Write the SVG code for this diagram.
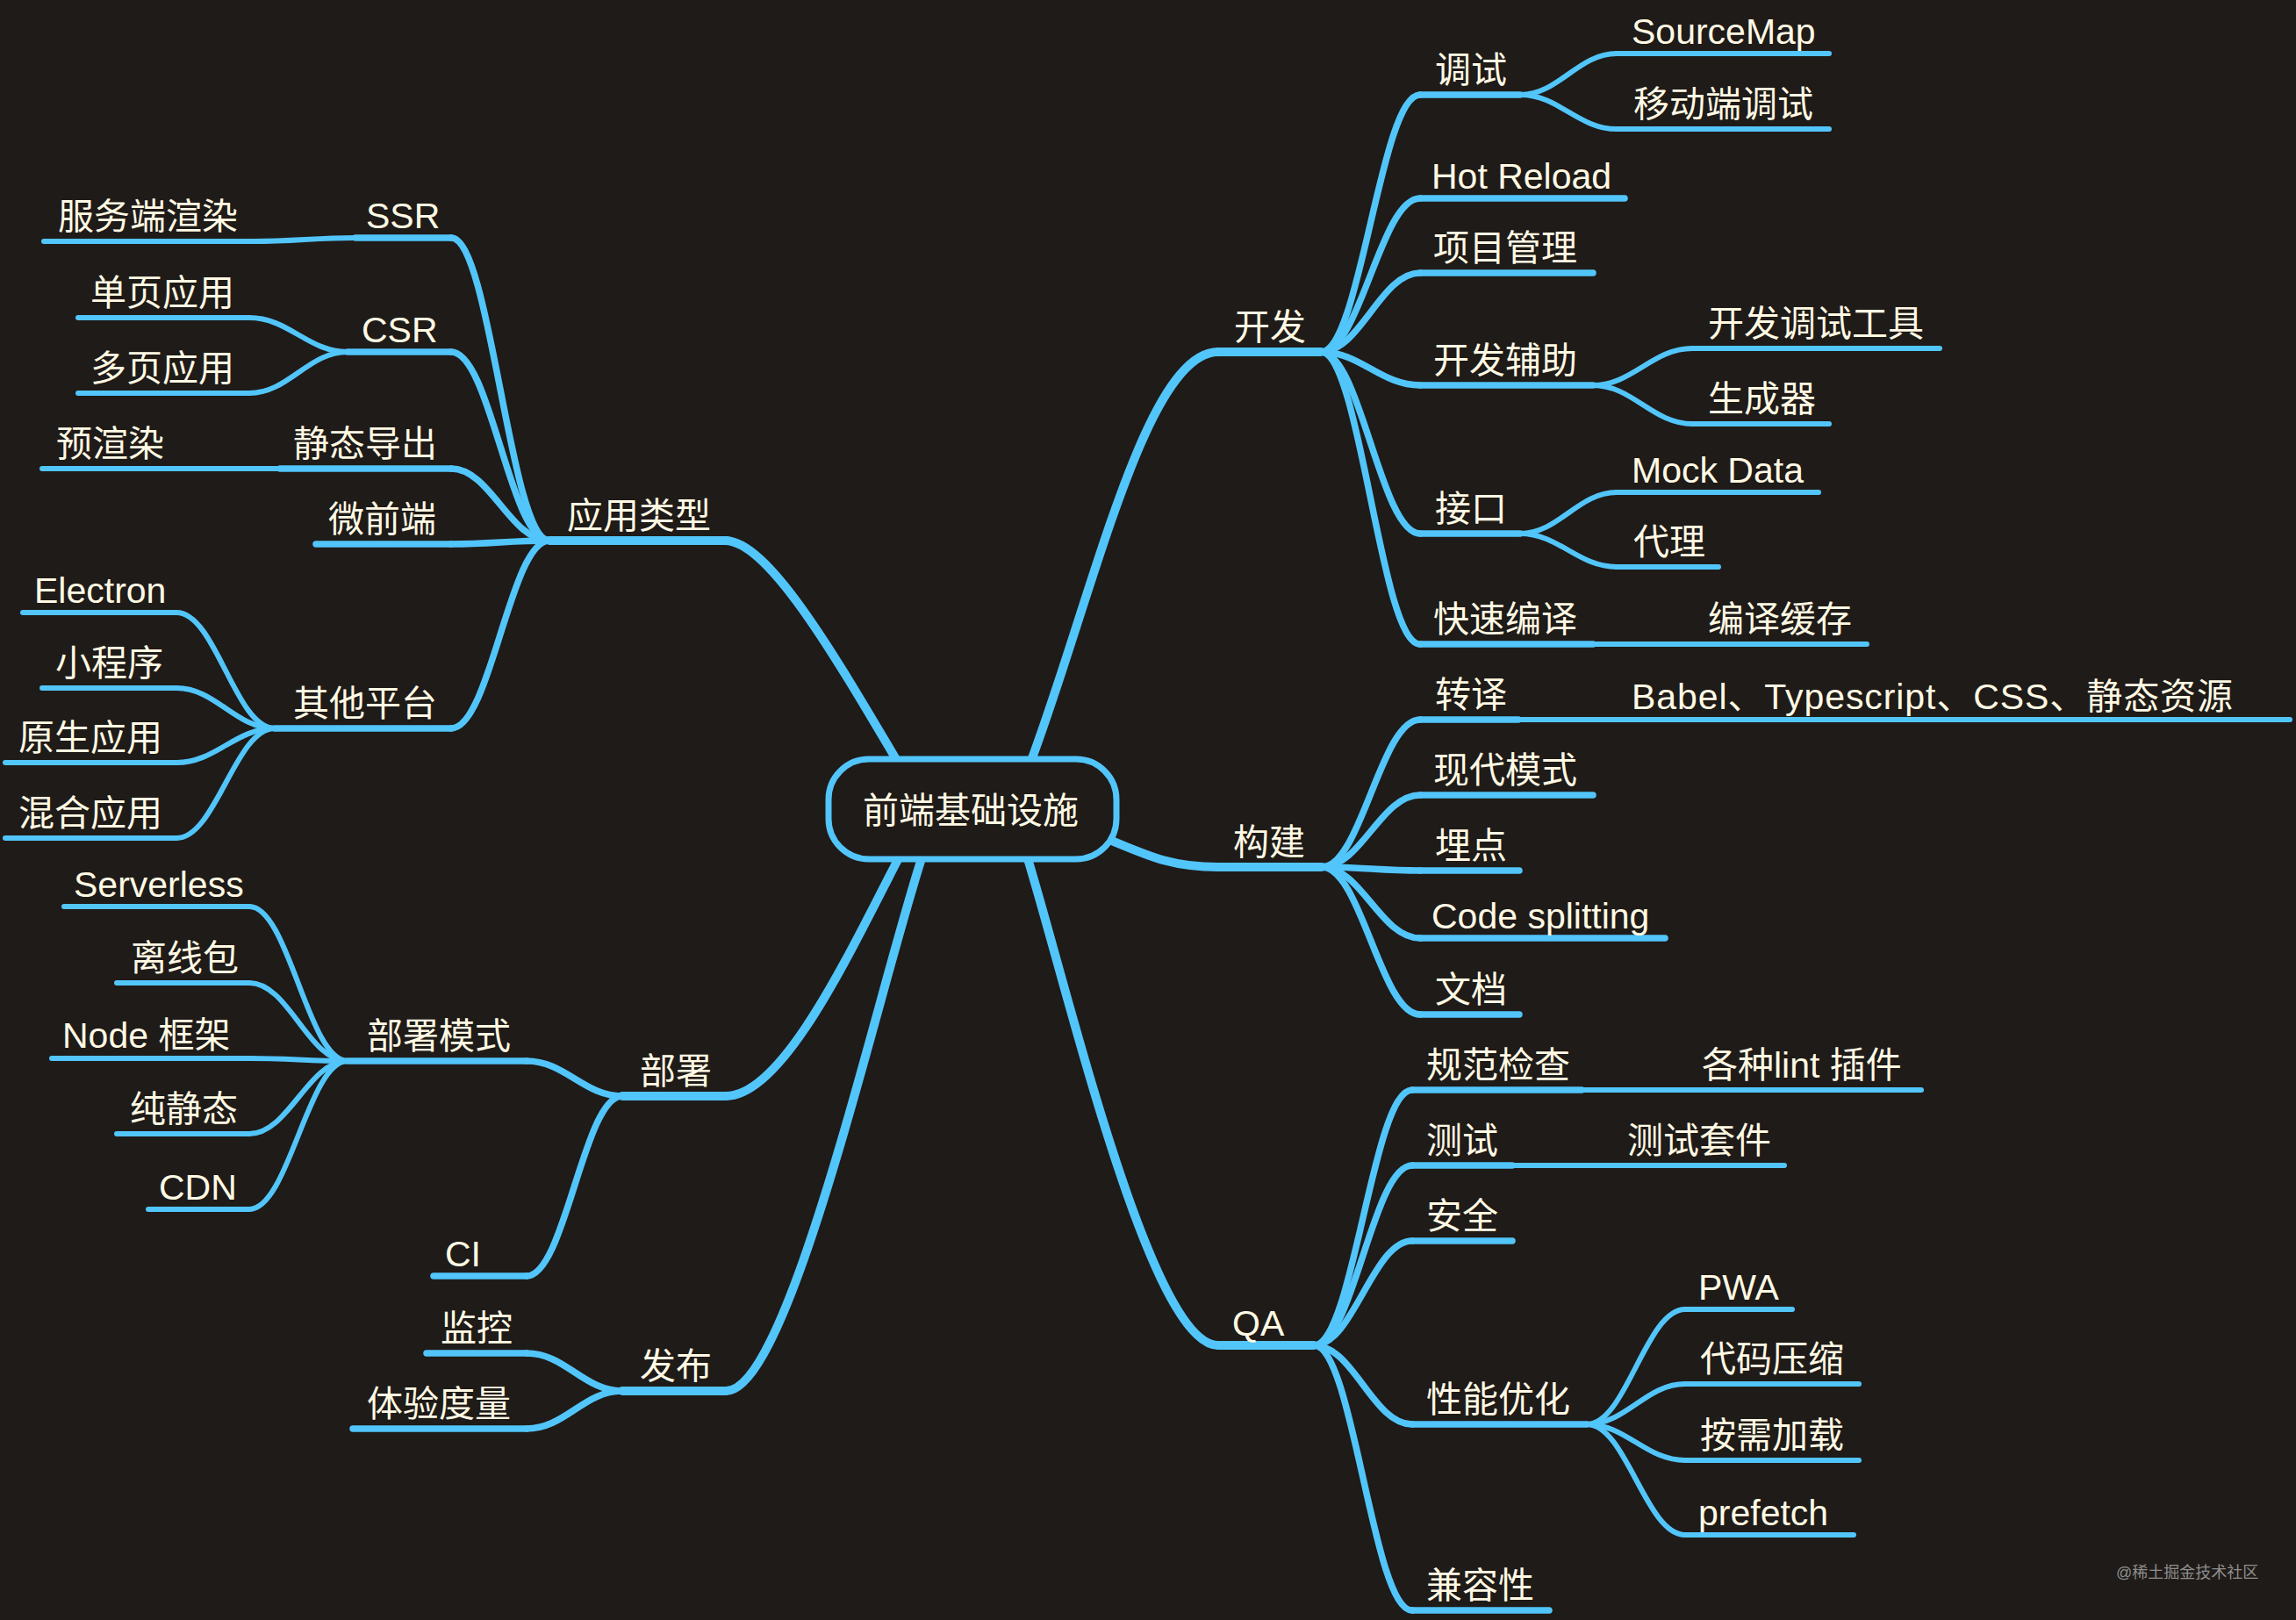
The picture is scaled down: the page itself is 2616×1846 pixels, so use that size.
<svg xmlns="http://www.w3.org/2000/svg" width="2616" height="1846" viewBox="0 0 2616 1846">
<style>
.bg{fill:#1f1b18}
path{fill:none;stroke:#52c5fa;stroke-linecap:round;stroke-linejoin:round}
.l1{stroke-width:10}
.l2{stroke-width:7.5}
.l3{stroke-width:6}
text{font-family:"Liberation Sans","Noto Sans CJK SC",sans-serif;font-size:41px;fill:#fff9e4}
.root rect{fill:#1f1b18;stroke:#52c5fa;stroke-width:7}
.wm{font-size:18px;fill:#8e8e8e}
</style>
<rect class="bg" x="0" y="0" width="2616" height="1846"/>
<g id="connectors">
<!-- root to level 1 -->
<path class="l1" d="M1025 872 C950 745 875 616 826 616"/>
<path class="l1" d="M1173 872 C1245 680 1305 401 1388 401"/>
<path class="l1" d="M1262 956 C1310 976 1335 988 1388 988"/>
<path class="l1" d="M1169 972 C1215 1120 1310 1533 1388 1533"/>
<path class="l1" d="M1027 972 C975 1070 895 1249 827 1249"/>
<path class="l1" d="M1052 972 C1000 1130 900 1585 827 1585"/>
<!-- 应用类型 -->
<path class="l2" d="M626 616 C581 616 559 271 514 271"/>
<path class="l2" d="M626 616 C581 616 559 401 514 401"/>
<path class="l2" d="M626 616 C581 616 559 534 514 534"/>
<path class="l2" d="M626 616 C581 616 559 620 514 620"/>
<path class="l2" d="M626 616 C581 616 559 830 514 830"/>
<!-- 部署 / 发布 -->
<path class="l2" d="M709 1249 C665 1249 644 1209 600 1209"/>
<path class="l2" d="M709 1249 C665 1249 644 1454 600 1454"/>
<path class="l2" d="M709 1585 C665 1585 644 1542 600 1542"/>
<path class="l2" d="M709 1585 C665 1585 644 1628 600 1628"/>
<!-- 开发 -->
<path class="l2" d="M1505 401 C1550 401 1573 108 1618 108"/>
<path class="l2" d="M1505 401 C1550 401 1573 226 1618 226"/>
<path class="l2" d="M1505 401 C1550 401 1573 311 1618 311"/>
<path class="l2" d="M1505 401 C1550 401 1573 439 1618 439"/>
<path class="l2" d="M1505 401 C1550 401 1573 608 1618 608"/>
<path class="l2" d="M1505 401 C1550 401 1573 734 1618 734"/>
<!-- 构建 -->
<path class="l2" d="M1506 988 C1551 988 1573 820 1618 820"/>
<path class="l2" d="M1506 988 C1551 988 1573 906 1618 906"/>
<path class="l2" d="M1506 988 C1551 988 1573 992 1618 992"/>
<path class="l2" d="M1506 988 C1551 988 1573 1069 1618 1069"/>
<path class="l2" d="M1506 988 C1551 988 1573 1156 1618 1156"/>
<!-- QA -->
<path class="l2" d="M1497 1533 C1542 1533 1564 1242 1609 1242"/>
<path class="l2" d="M1497 1533 C1542 1533 1564 1328 1609 1328"/>
<path class="l2" d="M1497 1533 C1542 1533 1564 1414 1609 1414"/>
<path class="l2" d="M1497 1533 C1542 1533 1564 1623 1609 1623"/>
<path class="l2" d="M1497 1533 C1542 1533 1564 1835 1609 1835"/>
<!-- level 3, left -->
<path class="l3" d="M405 271 C359 271 335 275 289 275"/>
<path class="l3" d="M396 401 C351 401 329 362 284 362"/>
<path class="l3" d="M396 401 C351 401 329 448 284 448"/>
<path class="l3" d="M319 534 L203 534"/>
<path class="l3" d="M313 830 C268 830 246 698 201 698"/>
<path class="l3" d="M313 830 C268 830 246 784 201 784"/>
<path class="l3" d="M313 830 C268 830 246 869 201 869"/>
<path class="l3" d="M313 830 C268 830 246 955 201 955"/>
<path class="l3" d="M396 1209 C351 1209 329 1033 284 1033"/>
<path class="l3" d="M396 1209 C351 1209 329 1120 284 1120"/>
<path class="l3" d="M396 1209 C351 1209 329 1206 284 1206"/>
<path class="l3" d="M396 1209 C351 1209 329 1292 284 1292"/>
<path class="l3" d="M396 1209 C351 1209 329 1378 284 1378"/>
<!-- level 3, right -->
<path class="l3" d="M1732 108 C1776 108 1798 61 1842 61"/>
<path class="l3" d="M1732 108 C1776 108 1798 147 1842 147"/>
<path class="l3" d="M1815 439 C1860 439 1883 397 1928 397"/>
<path class="l3" d="M1815 439 C1860 439 1883 483 1928 483"/>
<path class="l3" d="M1732 608 C1776 608 1798 561 1842 561"/>
<path class="l3" d="M1732 608 C1776 608 1798 646 1842 646"/>
<path class="l3" d="M1815 734 L1928 734"/>
<path class="l3" d="M1730 820 L1842 820"/>
<path class="l3" d="M1802 1242 L1921 1242"/>
<path class="l3" d="M1723 1328 L1836 1328"/>
<path class="l3" d="M1808 1623 C1853 1623 1875 1492 1920 1492"/>
<path class="l3" d="M1808 1623 C1853 1623 1875 1577 1920 1577"/>
<path class="l3" d="M1808 1623 C1853 1623 1875 1664 1920 1664"/>
<path class="l3" d="M1808 1623 C1853 1623 1875 1749 1920 1749"/>
</g>
<g id="root" class="root"><rect x="944" y="865" width="328" height="114" rx="46" ry="46"/><text x="983" y="938">前端基础设施</text></g>
<!-- level 1 -->
<g id="n-yylx"><path class="l1" d="M626 616 H827"/><text x="646" y="602">应用类型</text></g>
<g id="n-bs"><path class="l1" d="M709 1249 H827"/><text x="729" y="1235">部署</text></g>
<g id="n-fb"><path class="l1" d="M709 1585 H827"/><text x="729" y="1571">发布</text></g>
<g id="n-kf"><path class="l1" d="M1388 401 H1505"/><text x="1406" y="387">开发</text></g>
<g id="n-gj"><path class="l1" d="M1386 988 H1506"/><text x="1405" y="974">构建</text></g>
<g id="n-qa"><path class="l1" d="M1388 1533 H1497"/><text x="1404" y="1522">QA</text></g>
<!-- level 2 left -->
<g id="n-ssr"><path class="l2" d="M405 271 H514"/><text x="417" y="260">SSR</text></g>
<g id="n-csr"><path class="l2" d="M396 401 H514"/><text x="412" y="390">CSR</text></g>
<g id="n-jtdc"><path class="l2" d="M319 534 H514"/><text x="334" y="520">静态导出</text></g>
<g id="n-wqd"><path class="l2" d="M360 620 H514"/><text x="374" y="606">微前端</text></g>
<g id="n-qtpt"><path class="l2" d="M313 830 H514"/><text x="334" y="816">其他平台</text></g>
<g id="n-bsms"><path class="l2" d="M396 1209 H600"/><text x="418" y="1195">部署模式</text></g>
<g id="n-ci"><path class="l2" d="M494 1454 H600"/><text x="507" y="1443">CI</text></g>
<g id="n-jk"><path class="l2" d="M486 1542 H600"/><text x="502" y="1528">监控</text></g>
<g id="n-tydl"><path class="l2" d="M402 1628 H600"/><text x="418" y="1614">体验度量</text></g>
<!-- level 2 right -->
<g id="n-ts"><path class="l2" d="M1618 108 H1732"/><text x="1635" y="94">调试</text></g>
<g id="n-hr"><path class="l2" d="M1618 226 H1851"/><text x="1631" y="215">Hot Reload</text></g>
<g id="n-xmgl"><path class="l2" d="M1618 311 H1815"/><text x="1633" y="297">项目管理</text></g>
<g id="n-kffz"><path class="l2" d="M1618 439 H1815"/><text x="1633" y="425">开发辅助</text></g>
<g id="n-jiek"><path class="l2" d="M1618 608 H1732"/><text x="1635" y="594">接口</text></g>
<g id="n-ksby"><path class="l2" d="M1618 734 H1815"/><text x="1633" y="720">快速编译</text></g>
<g id="n-zy"><path class="l2" d="M1618 820 H1730"/><text x="1635" y="806">转译</text></g>
<g id="n-xdms"><path class="l2" d="M1618 906 H1815"/><text x="1633" y="892">现代模式</text></g>
<g id="n-md"><path class="l2" d="M1618 992 H1731"/><text x="1635" y="978">埋点</text></g>
<g id="n-cs"><path class="l2" d="M1618 1069 H1897"/><text x="1631" y="1058">Code splitting</text></g>
<g id="n-wd"><path class="l2" d="M1618 1156 H1731"/><text x="1635" y="1142">文档</text></g>
<g id="n-gfjc"><path class="l2" d="M1609 1242 H1802"/><text x="1625" y="1228">规范检查</text></g>
<g id="n-cshi"><path class="l2" d="M1609 1328 H1723"/><text x="1625" y="1314">测试</text></g>
<g id="n-aq"><path class="l2" d="M1609 1414 H1723"/><text x="1625" y="1400">安全</text></g>
<g id="n-xnyh"><path class="l2" d="M1609 1623 H1808"/><text x="1625" y="1609">性能优化</text></g>
<g id="n-jrx"><path class="l2" d="M1609 1835 H1765"/><text x="1625" y="1821">兼容性</text></g>
<!-- level 3 left -->
<g id="n-fwdxr"><path class="l3" d="M50 275 H289"/><text x="66" y="261">服务端渲染</text></g>
<g id="n-dyyy"><path class="l3" d="M89 362 H284"/><text x="103" y="348">单页应用</text></g>
<g id="n-duoyyy"><path class="l3" d="M89 448 H284"/><text x="103" y="434">多页应用</text></g>
<g id="n-yxr"><path class="l3" d="M48 534 H203"/><text x="64" y="520">预渲染</text></g>
<g id="n-electron"><path class="l3" d="M26 698 H201"/><text x="39" y="687">Electron</text></g>
<g id="n-xcx"><path class="l3" d="M48 784 H201"/><text x="63" y="770">小程序</text></g>
<g id="n-ysyy"><path class="l3" d="M6 869 H201"/><text x="21" y="855">原生应用</text></g>
<g id="n-hhyy"><path class="l3" d="M6 955 H201"/><text x="21" y="941">混合应用</text></g>
<g id="n-serverless"><path class="l3" d="M73 1033 H284"/><text x="84" y="1022">Serverless</text></g>
<g id="n-lxb"><path class="l3" d="M133 1120 H284"/><text x="149" y="1106">离线包</text></g>
<g id="n-node"><path class="l3" d="M59 1206 H284"/><text x="71" y="1194">Node 框架</text></g>
<g id="n-cjt"><path class="l3" d="M133 1292 H284"/><text x="148" y="1278">纯静态</text></g>
<g id="n-cdn"><path class="l3" d="M169 1378 H284"/><text x="181" y="1367">CDN</text></g>
<!-- level 3 right -->
<g id="n-sourcemap"><path class="l3" d="M1842 61 H2084"/><text x="1859" y="50">SourceMap</text></g>
<g id="n-ydts"><path class="l3" d="M1842 147 H2084"/><text x="1861" y="133">移动端调试</text></g>
<g id="n-kftsgj"><path class="l3" d="M1928 397 H2210"/><text x="1946" y="383">开发调试工具</text></g>
<g id="n-scq"><path class="l3" d="M1928 483 H2084"/><text x="1946" y="469">生成器</text></g>
<g id="n-mock"><path class="l3" d="M1842 561 H2072"/><text x="1859" y="550">Mock Data</text></g>
<g id="n-dl"><path class="l3" d="M1842 646 H1958"/><text x="1861" y="632">代理</text></g>
<g id="n-byhc"><path class="l3" d="M1928 734 H2127"/><text x="1946" y="720">编译缓存</text></g>
<g id="n-babel"><path class="l3" d="M1842 820 H2609"/><text x="1859" y="808" textLength="685">Babel、Typescript、CSS、静态资源</text></g>
<g id="n-lint"><path class="l3" d="M1921 1242 H2189"/><text x="1939" y="1228">各种lint 插件</text></g>
<g id="n-cstj"><path class="l3" d="M1836 1328 H2033"/><text x="1854" y="1314">测试套件</text></g>
<g id="n-pwa"><path class="l3" d="M1920 1492 H2042"/><text x="1935" y="1481">PWA</text></g>
<g id="n-dmys"><path class="l3" d="M1920 1577 H2118"/><text x="1937" y="1563">代码压缩</text></g>
<g id="n-axjz"><path class="l3" d="M1920 1664 H2118"/><text x="1937" y="1650">按需加载</text></g>
<g id="n-prefetch"><path class="l3" d="M1920 1749 H2112"/><text x="1935" y="1738">prefetch</text></g>
<text class="wm" x="2411" y="1798">@稀土掘金技术社区</text>
</svg>
